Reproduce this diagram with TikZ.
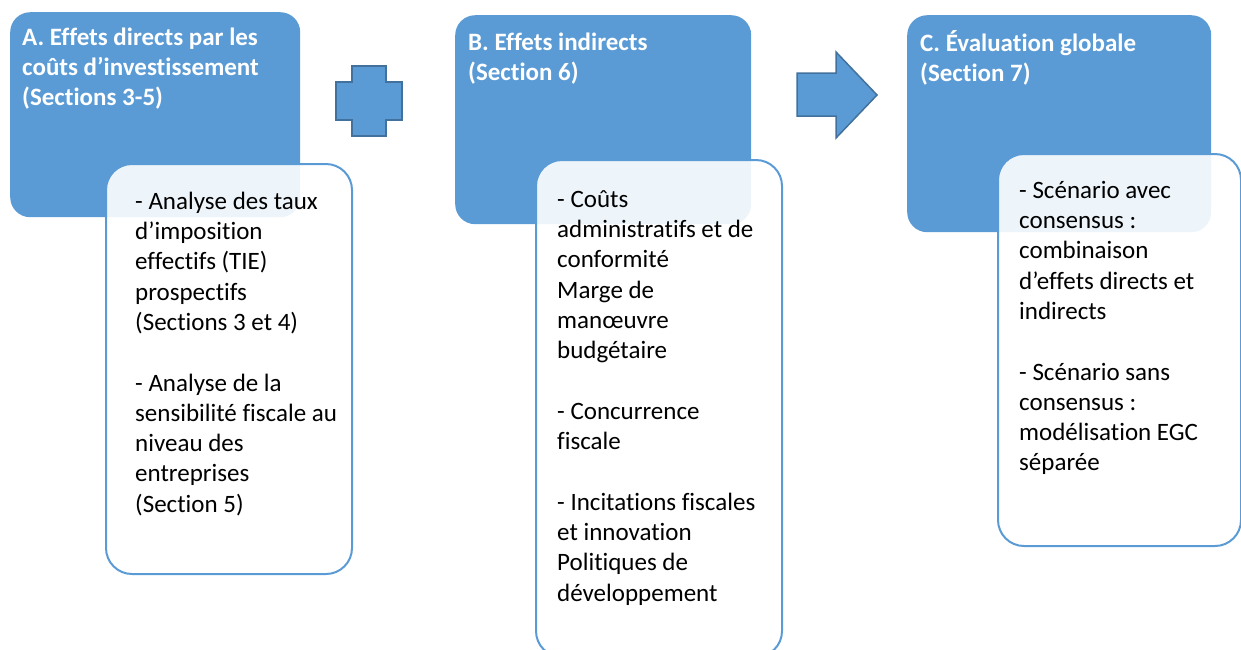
\documentclass[tikz,border=0pt]{standalone}
\usepackage{fontspec}
\setmainfont{Carlito}[Ligatures={NoCommon}]
\usetikzlibrary{positioning}

\definecolor{accent}{HTML}{5B9BD5}
\definecolor{accentdk}{HTML}{41719C}
% fixed height for the first line of each text block
\newcommand\tallstrut{\rule{0pt}{25pt}}

\begin{document}
\begin{tikzpicture}[x=1pt, y=-1pt, node distance=0pt,
	headbox/.style={anchor=north west, fill=accent, rounded corners=20pt, inner sep=0pt},
	listbox/.style={anchor=north west, draw=accent, line width=2pt, fill=white, fill opacity=0.9, rounded corners=26pt, inner sep=0pt},
	headtext/.style={inner sep=0pt, align=left, text=white, font=\fontsize{25}{30}\selectfont\bfseries},
	listtext/.style={inner sep=0pt, align=left, text=black, font=\fontsize{25}{30.3}\selectfont},
	sign/.style={fill=accent, draw=accentdk, line width=1.5pt}]

	\useasboundingbox (0,0) rectangle (1241,649);

	% A: direct effects
	\node[headbox, minimum width=290pt, minimum height=205pt] (a) at (10,12) {};
	\node[headtext, below right=8pt and 12pt of a.north west] (ah) {\tallstrut A. Effets directs par les\\coûts d’investissement\\(Sections 3-5)};
	\node[listbox, minimum width=246pt, minimum height=410pt] (al) at (105,163) {};
	\node[listtext, below right=21pt and 30pt of al.north west] (alt) {\tallstrut- Analyse des taux\\d’imposition\\effectifs (TIE)\\prospectifs\\(Sections 3 et 4)\\[\baselineskip]- Analyse de la\\sensibilité fiscale au\\niveau des\\entreprises\\(Section 5)};

	% B: indirect effects
	\node[headbox, minimum width=296pt, minimum height=209pt] (b) at (455,15) {};
	\node[headtext, below right=10pt and 13pt of b.north west] (bh) {\tallstrut B. Effets indirects\\(Section 6)};
	\node[listbox, minimum width=246pt, minimum height=497pt] (bl) at (535,159) {};
	\node[listtext, below right=23pt and 22pt of bl.north west] (blt) {\tallstrut- Coûts\\administratifs et de\\conformité\\Marge de\\manœuvre\\budgétaire\\[\baselineskip]- Concurrence\\fiscale\\[\baselineskip]- Incitations fiscales\\et innovation\\Politiques de\\développement};

	% C: overall assessment
	\node[headbox, minimum width=304pt, minimum height=217pt] (c) at (907,15) {};
	\node[headtext, below right=11pt and 13pt of c.north west] (ch) {\tallstrut C. Évaluation globale\\(Section 7)};
	\node[listbox, minimum width=243pt, minimum height=392pt] (cl) at (997,153) {};
	\node[listtext, below right=20pt and 22pt of cl.north west] (clt) {\tallstrut- Scénario avec\\consensus :\\combinaison\\d’effets directs et\\indirects\\[\baselineskip]- Scénario sans\\consensus :\\modélisation EGC\\séparée};

	% plus and arrow between the columns
	\draw[sign] (336,82) -| (352,66) -| (386,82) -| (402,120) -| (386,136) -| (352,120) -| cycle;
	\draw[sign] (797,73) -- (836,73) -- (836,52) -- (877,95) -- (836,138) -- (836,116) -- (797,116) -- cycle;

\end{tikzpicture}
\end{document}
